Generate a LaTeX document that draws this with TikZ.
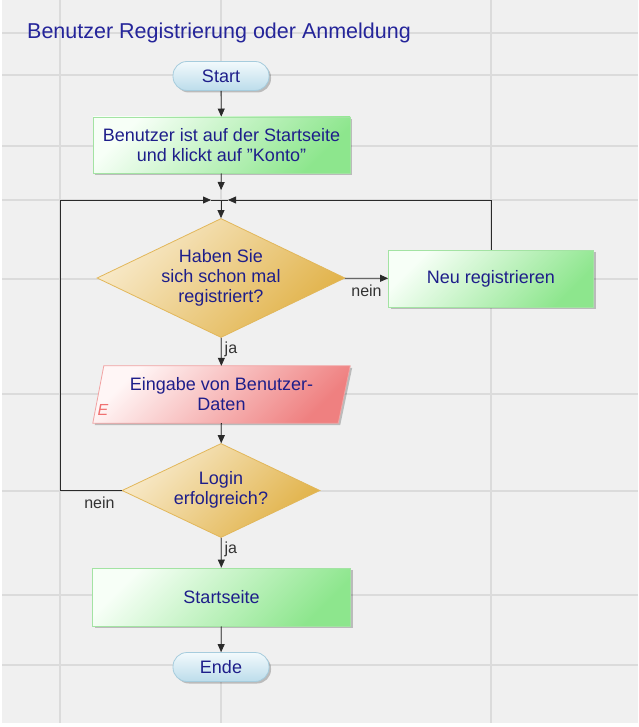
\documentclass[tikz,border=0pt]{standalone}
\usepackage{fontspec}
\setmainfont{Liberation Sans}
\usetikzlibrary{shapes.geometric,arrows.meta,shadows}
\definecolor{bgc}{HTML}{F0F0F0}
\definecolor{gridc}{HTML}{DBDBDB}
\definecolor{navy}{HTML}{1E1E8A}
\definecolor{titlec}{HTML}{25259A}
\definecolor{lblc}{HTML}{333333}
\definecolor{conc}{HTML}{2A2A2A}
\definecolor{greenA}{HTML}{F7FFF7}
\definecolor{greenB}{HTML}{8DE68D}
\definecolor{greenD}{HTML}{A3E3A3}
\definecolor{blueA}{HTML}{F2F9FC}
\definecolor{blueB}{HTML}{BCDDEB}
\definecolor{blueD}{HTML}{A6CCDD}
\definecolor{goldA}{HTML}{F8EACB}
\definecolor{goldB}{HTML}{E1B248}
\definecolor{goldD}{HTML}{E2B75A}
\definecolor{redA}{HTML}{FFF6F6}
\definecolor{redB}{HTML}{EF8080}
\definecolor{redD}{HTML}{F2A3A3}
\definecolor{etagc}{HTML}{F07070}
\pgfdeclarelayer{back}
\pgfdeclarelayer{shapes}
\pgfsetlayers{back,shapes,main}
\tikzset{
  txt/.style={text=navy,font=\fontsize{18}{20}\selectfont,align=center},
  shad/.style={drop shadow={shadow xshift=2pt,shadow yshift=-2pt,fill=black,opacity=0.22}},
  pill/.style={txt,shad,rectangle,rounded corners=14pt,minimum width=96pt,minimum height=29pt,
    draw=blueD,line width=0.8pt,top color=blueA,bottom color=blueB,inner sep=0pt},
  procbox/.style={txt,shad,rectangle,draw=greenD,line width=0.8pt,top color=greenA,bottom color=greenB,
    shading angle=45,inner sep=0pt},
  decision/.style={txt,diamond,draw=goldD,line width=0.8pt,top color=goldA,bottom color=goldB,
    shading angle=45,inner sep=0pt},
  inputshape/.style={shad,draw=redD,line width=0.8pt,top color=redA,bottom color=redB,shading angle=45},
  conn/.style={draw=conc,line width=0.8pt,-{Triangle[length=8pt,width=7pt]}},
  plainline/.style={draw=conc,line width=0.8pt},
  lbl/.style={text=lblc,font=\fontsize{16}{18}\selectfont,inner sep=1pt},
  gridline/.style={draw=gridc,line width=1.3pt}
}
\newcommand{\dtext}[1]{\smash{\raisebox{-4.5pt}{\begin{tabular}{@{}c@{}}#1\end{tabular}}}}
\begin{document}
\begin{tikzpicture}[x=1pt,y=-1pt]
\useasboundingbox (0,0) rectangle (638,727);
\begin{pgfonlayer}{back}
\fill[white] (0,0) rectangle (638,727);
\fill[bgc] (2,0) rectangle (638,723);
\foreach \gx in {60,221,491} {\draw[gridline] (\gx,0) -- (\gx,723);}
\foreach \gy in {33,75,146,200,279,394,491,595,665} {\draw[gridline] (2,\gy) -- (638,\gy);}
\end{pgfonlayer}

\node[anchor=west,text=titlec,font=\fontsize{21.5}{24}\selectfont,inner sep=0pt] (title) at (27,33) {Benutzer Registrierung oder Anmeldung};

\node[pill] (start) at (221,76) {Start};
\node[procbox,minimum width=257pt,minimum height=56pt] (box1) at (221.5,145)
  {Benutzer ist auf der Startseite\\und klickt auf "Konto"};
\coordinate (J) at (221,200);
\node[decision,minimum width=248pt,minimum height=102pt] (d1) at (221,278)
  {\dtext{Haben Sie\\sich schon mal\\registriert?}};
\node[procbox,minimum width=205pt,minimum height=57pt] (nr) at (491,278.5) {Neu registrieren};
\node[txt,rectangle,minimum width=257pt,minimum height=57pt,inner sep=0pt] (inp) at (221.5,394.5)
  {Eingabe von Benutzer-\\Daten};
\begin{pgfonlayer}{shapes}
\path[inputshape] ([xshift=11pt]inp.north west) -- (inp.north east)
  -- ([xshift=-12pt]inp.south east) -- (inp.south west) -- cycle;
\end{pgfonlayer}
\node[text=etagc,font=\fontsize{16}{18}\selectfont\itshape,inner sep=0pt] (etag) at (103,410) {E};
\node[decision,minimum width=198pt,minimum height=83pt] (d2) at (221,490.5)
  {\dtext{Login\\erfolgreich?}};
\node[procbox,minimum width=258pt,minimum height=58pt] (ss) at (221.5,597) {Startseite};
\node[pill] (ende) at (221,667) {Ende};

\coordinate (LX) at (60,200);
\coordinate (RX) at (491,200);

\draw[conn] (start) -- (box1);
\draw[conn,shorten >=10pt] (box1) -- (J);
\draw[conn] (J) -- (d1);
\draw[conn] (d1) -- node[lbl,below=5pt] {nein} (nr);
\draw[conn,shorten >=7pt] (nr.north) -- (RX) -- (J);
\draw[conn] (d1) -- node[lbl,right=2pt,pos=0.4] {ja} (inp);
\draw[conn] (inp) -- (d2);
\draw[conn,shorten >=10pt] (d2.west) -| node[lbl,below=5pt,pos=0.18] {nein} (LX) -- (J);
\draw[plainline] ([xshift=-10pt]J) -- ([xshift=7pt]J);
\draw[conn] (d2) -- node[lbl,right=2pt,pos=0.4] {ja} (ss);
\draw[conn] (ss) -- (ende);
\end{tikzpicture}
\end{document}
